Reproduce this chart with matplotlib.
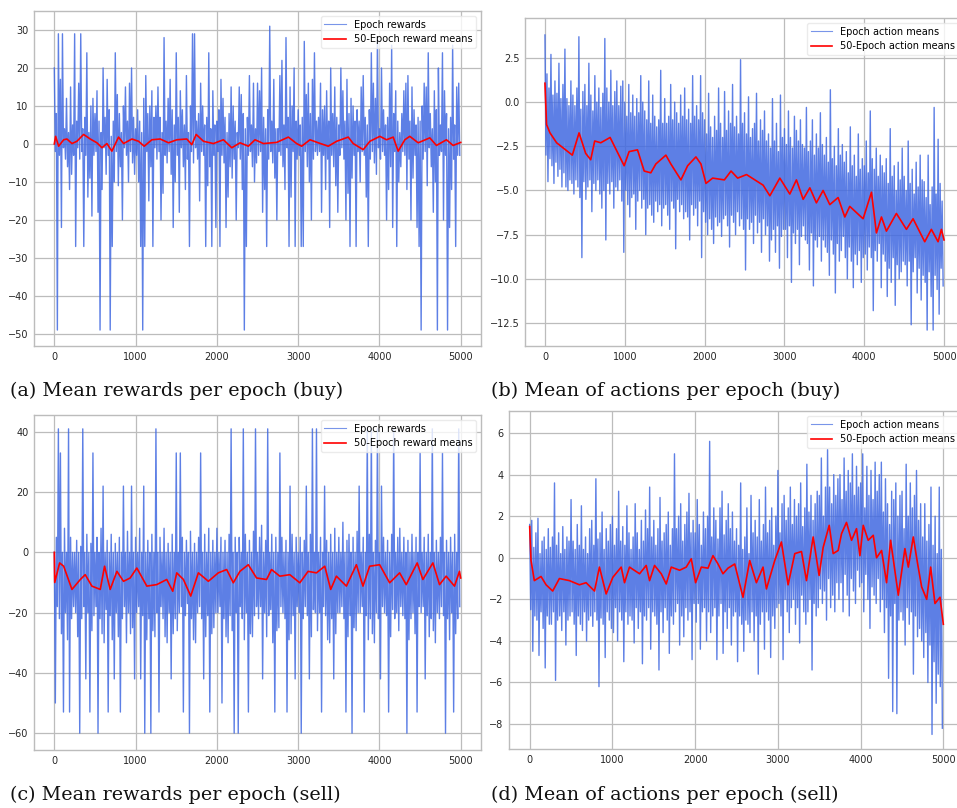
import numpy as np
import matplotlib
matplotlib.use("Agg")
import matplotlib.pyplot as plt

# ---------------------------------------------------------------- data
N_EPOCHS = 5000  # per-epoch samples below are spread evenly over the run

# (a) buy agent: per-epoch mean rewards
buy_rewards = [
    20, -2, 8, -49, 29, -3, 17, -22, 29, -1, 4, -4, 12, -6, 3, -12, 15, -8, 5, -3,
    29, -27, 6, -1, 16, -4, 29, -2, 4, -27, 7, -3, 24, -14, 3, -9, 10, -19, 12, -3,
    8, -2, 14, -18, 6, -49, 3, -12, 20, -1, 7, -8, 17, -3, 9, -49, 2, -27, 6, -10,
    24, -2, 13, -11, 8, -6, 3, -20, 10, -1, 15, -3, 6, -10, 16, -2, 20, -5, 7, -8,
    4, -3, 9, -10, 6, -27, 3, -49, 12, -27, 18, -2, 8, -15, 10, -6, 14, -27, 7, -1,
    10, -4, 15, -2, 7, -20, 3, -13, 28, -3, 6, -5, 12, -2, 17, -8, 9, -22, 5, -10,
    24, -3, 7, -18, 14, -1, 9, -6, 5, -12, 18, -4, 3, -27, 10, -2, 29, -5, 29, -1,
    6, -4, 8, -15, 16, -2, 10, -3, 5, -27, 7, -11, 24, -6, 4, -27, 14, -3, 5, -22,
    6, -2, 9, -27, 17, -3, 12, -5, 7, -22, 3, -14, 8, -6, 15, -9, 10, -4, 6, -20,
    3, -1, 15, -4, 13, -12, 8, -49, 4, -27, 7, -3, 18, -2, 5, -6, 16, -10, 4, -5,
    16, -3, 14, -2, 20, -18, 7, -12, 4, -27, 9, -4, 31, -2, 6, -5, 17, -9, 4, -20,
    4, -2, 18, -3, 22, -6, 5, -12, 28, -1, 7, -27, 15, -14, 10, -2, 20, -27, 6, -4,
    9, -3, 5, -27, 7, -27, 27, -2, 13, -6, 16, -10, 8, -20, 17, -4, 24, -2, 6, -3,
    7, -2, 16, -18, 9, -3, 10, -12, 14, -4, 6, -22, 20, -3, 8, -6, 15, -11, 7, -18,
    5, -3, 20, -1, 14, -4, 6, -20, 17, -13, 8, -27, 12, -9, 10, -3, 6, -27, 9, -2,
    6, -10, 15, -2, 18, -3, 7, -14, 5, -27, 9, -4, 24, -2, 16, -5, 12, -8, 28, -1,
    4, -4, 20, -2, 9, -3, 5, -20, 7, -12, 16, -6, 26, -22, 8, -2, 14, -27, 6, -10,
    3, -6, 8, -2, 14, -3, 16, -12, 18, -4, 6, -20, 15, -9, 9, -3, 5, -22, 7, -27,
    6, -49, 10, -4, 16, -2, 15, -11, 24, -1, 8, -6, 4, -18, 14, -10, 9, -49, 20, -3,
    5, -2, 24, -20, 14, -3, 8, -49, 4, -22, 7, -12, 26, -4, 5, -27, 15, -3, 16, -3,
]
buy_reward_mean_epochs = [
    0, 16, 53, 115, 155, 217, 278, 360, 442, 524, 586, 647, 708, 790, 852,
    954, 1036, 1106, 1200, 1302, 1405, 1507, 1630, 1691, 1745, 1835, 1957,
    2080, 2183, 2285, 2387, 2469, 2572, 2735, 2879, 2981, 3043, 3145, 3247,
    3370, 3473, 3616, 3677, 3800, 3882, 4005, 4087, 4169, 4230, 4312, 4373,
    4476, 4619, 4701, 4824, 4906, 4999,
]
buy_reward_means = [
    0, 2.0, -0.6, 1.1, 1.3, 0.1, 0.7, 2.5, 1.3, 0.3, -1.0, 0.1, -1.9, 1.8, 0.1,
    1.3, 0.7, -0.6, 1.1, 1.3, 0.3, 1.1, 1.3, -0.2, 2.5, 0.7, 0.1,
    1.1, -1.0, 0.3, -0.6, 1.1, 0.1, 0.4, 1.8, 0.1, -0.6, 1.1, 0.3,
    -0.6, 0.7, 1.8, 0.1, -1.5, 0.7, 2.0, 1.1, 1.8, -1.9, 1.1, 2.0,
    0.3, 1.6, -0.4, 1.1, -0.4, 0.4,
]

# (b) buy agent: per-epoch mean actions
buy_actions = [
    3.8, -3.0, 1.6, -4.5, 0.8, -3.2, 2.7, -3.6, 0.4, -4.6, 1.2, -3.4, 0.5, -4.2, 2.2, -3.8, 0.2, -4.8, 1.0, -4.0,
    3.0, -4.8, 0.2, -5.0, -0.2, -4.4, 1.2, -4.6, 0.4, -5.2, -0.2, -4.4, 0.8, -4.8, 3.7, -5.4, -0.4, -8.8, 0.6, -4.5,
    1.0, -5.5, -0.2, -4.8, 2.2, -4.4, 0.4, -6.2, -0.5, -4.6, 1.5, -5.0, 0.0, -4.4, 0.8, -5.2, -0.3, -6.0, 0.5, -5.0,
    3.6, -7.8, 0.8, -4.6, 0.0, -5.2, 1.8, -4.5, -0.2, -6.0, 0.6, -4.8, 1.2, -5.0, -0.2, -4.4, 0.9, -5.6, 1.2, -8.5,
    0.0, -5.0, -0.8, -5.8, 1.0, -6.5, -0.6, -5.4, 0.4, -5.2, -0.8, -7.2, 0.2, -5.6, -0.6, -5.0, 1.5, -6.0, 0.0, -5.5,
    -0.5, -7.5, -1.0, -6.0, 1.2, -5.8, -1.2, -6.4, 0.4, -6.8, -0.8, -5.6, -1.4, -6.2, -1.0, -5.8, 1.8, -7.0, -1.2, -6.0,
    0.2, -5.8, -1.2, -6.4, -0.8, -7.2, 1.0, -5.6, -1.0, -6.0, 0.0, -8.3, -0.6, -5.5, -1.2, -6.2, 0.4, -5.8, -0.8, -6.6,
    0.8, -6.2, -1.0, -6.5, -0.4, -7.8, -1.2, -5.8, 1.5, -6.4, -0.8, -6.0, -0.2, -7.0, -1.0, -5.6, 1.5, -8.8, -0.6, -6.2,
    -1.0, -6.8, -1.8, -7.5, 0.5, -6.6, -1.4, -7.2, -2.0, -8.0, -0.8, -6.5, -1.6, -7.0, 0.8, -6.8, -1.2, -7.6, -2.0, -6.6,
    0.6, -6.4, -1.6, -7.0, -0.5, -8.2, -1.2, -6.4, 1.0, -6.8, -1.4, -7.5, -0.8, -6.2, -1.8, -7.0, 2.4, -6.6, -1.2, -7.2,
    -0.6, -9.5, -1.8, -6.6, 0.3, -7.2, -2.0, -6.8, -1.5, -8.0, -1.2, -6.4, 0.5, -7.4, -2.2, -6.8, -1.0, -8.5, -1.6, -6.6,
    -0.5, -7.5, -2.2, -7.0, -1.8, -9.0, -2.6, -7.8, 0.2, -7.2, -2.2, -8.5, -1.2, -7.0, -2.8, -9.4, 0.4, -7.6, -2.0, -7.2,
    -1.5, -7.2, -2.4, -8.8, -0.5, -7.0, -2.0, -10.2, -2.6, -7.4, -0.8, -8.0, -1.6, -7.2, -2.2, -9.2, -1.0, -7.6, -2.4, -7.0,
    -2.6, -7.8, -0.3, -8.0, -2.8, -9.5, -2.2, -7.4, -1.0, -10.4, -3.0, -7.8, -1.8, -8.2, -2.6, -7.6, -0.6, -9.0, -2.4, -7.8,
    -3.0, -8.2, -2.0, -8.5, -3.4, -9.8, 0.7, -7.8, -3.2, -8.6, -2.5, -10.8, -3.6, -8.0, -1.5, -9.0, -3.0, -8.4, -2.4, -7.6,
    -3.4, -8.8, -2.8, -10.0, -4.0, -8.2, -1.4, -9.0, -3.6, -10.5, -3.0, -8.6, -4.2, -9.2, -1.8, -8.4, -3.8, -10.2, -3.2, -8.8,
    -3.6, -8.6, -2.2, -9.5, -4.0, -8.2, -0.5, -8.8, -3.2, -11.8, -3.8, -8.4, -2.6, -9.0, -4.2, -8.0, -3.0, -10.5, -3.6, -8.6,
    -4.0, -9.0, -3.2, -11.0, -4.6, -9.4, -1.5, -10.2, -4.2, -8.8, -3.6, -11.5, -5.0, -9.2, -3.4, -10.0, -4.4, -9.6, -2.6, -9.0,
    -4.2, -9.2, -5.0, -10.4, -2.2, -9.0, -4.6, -12.6, -3.8, -9.6, -5.2, -8.8, -3.4, -10.8, -4.8, -9.4, -3.0, -11.2, -4.4, -9.8,
    -4.5, -10.2, -5.4, -12.9, -3.0, -9.6, -5.8, -11.0, -4.8, -12.9, -0.3, -9.8, -5.2, -10.6, -2.1, -12.0, -4.6, -9.4, -5.6, -10.4,
]
buy_action_mean_epochs = [
    0, 20, 63, 146, 343, 427, 510, 573, 623, 699, 816, 992, 1054, 1159, 1243,
    1326, 1389, 1515, 1577, 1703, 1787, 1891, 1954, 2017, 2100, 2247, 2331,
    2414, 2525, 2733, 2817, 2942, 3067, 3150, 3234, 3318, 3400, 3484, 3568,
    3672, 3756, 3818, 3985, 4090, 4152, 4215, 4277, 4402, 4528, 4611, 4757,
    4840, 4924, 4966, 4999,
]
buy_action_means = [
    1.07, -1.27, -1.74, -2.3, -3.0, -1.74, -2.9, -3.26, -2.2, -2.3, -2.0, -3.6,
    -2.8, -2.7, -3.9, -4.0, -3.5, -3.0, -3.5, -4.4, -3.6, -3.1, -3.5, -4.6,
    -4.3, -4.4, -3.9, -4.3, -4.1, -4.7, -5.3, -4.3, -5.2, -4.4, -5.5, -4.85,
    -5.7, -5.0, -5.8, -5.4, -6.5, -5.9, -6.6, -5.1, -7.4, -6.5, -7.3, -6.3,
    -7.2, -6.6, -7.9, -7.2, -7.9, -7.2, -7.8,
]

# (c) sell agent: per-epoch mean rewards
sell_rewards = [
    0, -50, 5, -18, 41, -22, 33, -27, 0, -53, 8, -20, 0, -29, 41, -53, 5, -22, 0, -18,
    0, -20, 4, -28, 0, -60, 2, -22, 41, -18, 0, -42, 6, -20, 0, -53, 3, -26, 33, -21,
    0, -18, 5, -60, 0, -22, 8, -27, 22, -30, 0, -19, 4, -53, 0, -21, 6, -29, 0, -42,
    3, -20, 0, -28, 5, -53, 0, -22, 22, -18, 0, -30, 7, -20, 0, -27, 22, -25, 0, -42,
    5, -20, 0, -18, 8, -42, 0, -21, 22, -60, 0, -29, 4, -22, 0, -60, 6, -26, 0, -28,
    41, -20, 0, -53, 5, -18, 0, -22, 8, -28, 0, -30, 3, -20, 0, -42, 6, -27, 0, -22,
    33, -26, 0, -20, 33, -18, 5, -53, 0, -21, 4, -17, 0, -60, 7, -22, 0, -29, 3, -30,
    0, -20, 5, -18, 33, -22, 0, -42, 6, -28, 0, -21, 8, -53, 0, -27, 4, -25, 0, -20,
    8, -20, 0, -18, 5, -50, 0, -22, 4, -28, 0, -30, 6, -21, 41, -26, 0, -60, 5, -20,
    0, -60, 5, -18, 0, -22, 41, -29, 6, -20, 0, -53, 4, -27, 0, -28, 7, -21, 41, -18,
    0, -22, 5, -18, 9, -42, 0, -20, 4, -28, 41, -21, 0, -19, 6, -30, 0, -53, 5, -26,
    0, -25, 33, -18, 5, -20, 0, -22, 4, -53, 0, -29, 22, -27, 6, -21, 0, -42, 5, -18,
    0, -20, 5, -60, 0, -22, 4, -18, 22, -21, 0, -42, 6, -28, 41, -19, 0, -20, 41, -26,
    0, -20, 5, -53, 0, -18, 22, -21, 4, -29, 0, -30, 6, -22, 0, -42, 8, -27, 0, -20,
    5, -20, 0, -18, 10, -22, 0, -53, 4, -28, 6, -21, 0, -60, 5, -25, 0, -26, 7, -20,
    22, -20, 0, -18, 5, -53, 0, -21, 41, -29, 6, -22, 41, -27, 0, -30, 4, -20, 41, -22,
    0, -42, 22, -18, 5, -20, 0, -21, 4, -53, 0, -28, 6, -19, 41, -22, 0, -20, 5, -26,
    8, -18, 0, -21, 5, -22, 0, -60, 4, -29, 0, -22, 6, -20, 0, -27, 5, -53, 0, -18,
    33, -20, 0, -18, 5, -42, 0, -21, 6, -28, 0, -22, 41, -26, 0, -30, 4, -20, 0, -22,
    5, -18, 33, -21, 0, -60, 4, -22, 0, -29, 5, -20, 0, -53, 6, -27, 0, -22, 41, -18,
]
sell_reward_mean_epochs = [
    0, 5, 65, 115, 217, 320, 380, 462, 565, 618, 687, 770, 851, 933, 1015,
    1138, 1260, 1383, 1457, 1506, 1588, 1678, 1772, 1895, 2017, 2120, 2202,
    2283, 2386, 2488, 2611, 2672, 2774, 2897, 3020, 3122, 3224, 3327, 3400,
    3470, 3593, 3716, 3797, 3879, 4002, 4125, 4248, 4329, 4464, 4534, 4657,
    4739, 4820, 4923, 4984, 4999,
]
sell_reward_means = [
    0, -10, -3.5, -4.6, -12.3, -9, -7.4, -11.2, -12.3, -4.6, -12.3, -6.3, -9.6,
    -8.5, -5.2, -11.2, -10.7, -9, -12.9, -6.8, -9, -14.5, -6.8, -9.6, -6.8,
    -5.7, -10.1, -6.3, -4.1, -8.5, -9, -5.7, -7.9, -7.4, -10.1, -6.3, -6.8,
    -4.6, -12.3, -7.9, -11.2, -4.1, -11.2, -4.6, -4.1, -10.1, -6.8, -10.7,
    -3.5, -9, -3.5, -10.7, -7.9, -11.2, -6.3, -8.5,
]

# (d) sell agent: per-epoch mean actions
sell_actions = [
    1.6, -2.5, 1.8, -4.5, 0.5, -2.8, 1.2, -3.0, 1.9, -4.7, 0.2, -2.6, 0.8, -3.4, 1.0, -5.3, 0.4, -2.8, 1.4, -3.2,
    0.5, -3.2, 1.0, -2.6, 3.6, -5.9, 0.6, -3.0, 1.2, -2.8, 0.2, -3.5, 1.5, -2.6, 0.4, -4.2, 1.0, -3.0, 0.8, -2.8,
    2.8, -2.6, 0.8, -3.2, 0.4, -4.7, 1.6, -2.8, 0.6, -3.2, 2.5, -3.5, 0.4, -2.6, 1.0, -4.0, 0.2, -3.0, 1.4, -2.8,
    1.8, -3.3, 0.6, -2.6, 3.8, -3.0, 0.9, -6.2, 1.2, -2.9, 2.2, -3.2, 0.4, -4.8, 1.4, -2.6, 0.8, -3.0, 1.6, -3.4,
    2.0, -3.6, 0.6, -2.4, 1.4, -4.0, 3.2, -2.6, 0.8, -3.0, 1.5, -5.0, 0.6, -2.6, 2.5, -3.2, 1.2, -2.8, 0.4, -3.0,
    1.0, -4.1, 2.6, -2.4, 1.2, -3.4, 0.4, -2.6, 1.8, -5.1, 0.8, -2.8, 2.3, -3.0, 1.4, -2.4, 3.4, -4.4, 1.0, -2.6,
    1.8, -2.8, 0.6, -3.2, 1.4, -5.4, 2.9, -2.6, 0.8, -3.6, 1.2, -2.4, 1.6, -3.0, 2.2, -4.6, 0.6, -2.8, 1.4, -3.2,
    5.0, -2.6, 1.4, -2.2, 2.0, -4.2, 2.6, -2.8, 0.8, -3.8, 1.6, -2.4, 2.2, -3.0, 3.1, -2.6, 1.2, -4.9, 1.8, -2.2,
    1.2, -3.1, 2.8, -2.2, 1.6, -4.4, 0.6, -2.6, 2.2, -2.4, 1.4, -4.0, 2.0, -2.6, 5.6, -3.6, 1.0, -2.8, 2.4, -2.4,
    1.8, -4.9, 0.9, -2.8, 2.4, -2.2, 3.2, -4.6, 1.1, -2.6, 1.8, -3.4, 2.6, -2.4, 1.4, -4.2, 2.2, -2.8, 0.8, -2.6,
    1.4, -5.0, 0.6, -2.8, 3.6, -3.2, 0.4, -4.5, 1.0, -3.0, 2.4, -3.2, 0.2, -3.6, 3.0, -2.6, 1.2, -4.0, 1.8, -2.8,
    1.0, -5.6, 2.8, -3.2, 0.8, -2.6, 1.6, -4.4, 3.4, -2.6, 1.2, -3.0, 1.8, -4.8, 2.4, -2.8, 0.6, -3.4, 2.0, -2.4,
    4.2, -2.2, 1.2, -2.8, 2.6, -4.9, 3.0, -2.0, 1.8, -2.6, 2.4, -3.6, 3.4, -2.4, 1.6, -2.0, 2.8, -3.2, 2.0, -2.4,
    2.6, -4.1, 3.6, -1.8, 1.5, -2.6, 2.4, -3.2, 4.5, -2.6, 2.2, -2.0, 3.0, -5.4, 1.8, -2.2, 2.6, -2.8, 3.2, -2.4,
    3.0, -1.5, 4.8, -2.2, 2.0, -1.6, 3.4, -3.0, 5.2, -1.0, 3.4, -2.4, 2.6, -1.8, 4.0, -2.6, 3.0, -1.2, 3.8, -2.0,
    4.0, -1.2, 2.8, -2.6, 4.8, -0.8, 3.2, -1.8, 4.2, -2.8, 3.6, -1.0, 5.0, -1.6, 3.0, -2.2, 4.4, -0.6, 3.4, -1.4,
    3.6, -1.2, 5.0, -2.6, 2.4, -0.8, 4.4, -2.0, 3.0, -3.4, 4.2, -1.4, 2.8, -1.8, 4.6, -2.2, 3.2, -1.0, 4.0, -2.6,
    4.6, -2.0, 2.2, -3.6, 3.8, -2.4, 2.6, -5.8, 1.6, -2.8, 3.2, -7.4, 2.8, -2.2, 3.6, -7.5, 2.0, -3.0, 3.0, -2.6,
    3.2, -3.0, 1.4, -4.2, 4.5, -2.4, 2.0, -3.2, 3.6, -2.6, 2.4, -5.6, 3.0, -2.8, 4.2, -3.8, 1.8, -3.4, 2.6, -4.0,
    1.0, -4.8, 2.6, -3.6, 0.8, -6.0, 1.6, -4.2, 3.4, -8.5, 0.6, -5.0, 2.0, -7.0, 0.2, -5.6, 3.4, -6.2, 0.4, -8.2,
]
sell_action_mean_epochs = [
    0, 16, 56, 137, 198, 278, 359, 480, 601, 682, 783, 843, 924, 1005, 1106,
    1146, 1206, 1328, 1408, 1449, 1509, 1590, 1650, 1711, 1812, 1892, 1953,
    2005, 2074, 2155, 2215, 2276, 2336, 2397, 2478, 2578, 2659, 2740, 2820,
    2861, 2962, 3042, 3123, 3204, 3285, 3345, 3426, 3498, 3547, 3620, 3668,
    3728, 3769, 3829, 3890, 3950, 3991, 4031, 4091, 4152, 4192, 4253, 4313,
    4362, 4455, 4535, 4576, 4636, 4689, 4737, 4798, 4846, 4898, 4959, 4999,
]
sell_action_means = [
    1.5, -0.13, -1.1, -0.9, -1.3, -1.6, -1.0, -1.1, -1.3, -1.2, -1.6, -0.45,
    -1.74, -0.94, -0.45, -1.2, -0.45, -0.77, -0.37, -1.1, -0.37, -0.77, -1.26,
    -0.45, -0.6, -0.45, -0.05, -1.2, -0.45, -0.5, 0.1, -0.3, -0.77, -0.5, -0.3,
    -1.9, -0.13, -1.2, -0.45, -1.5, -0.13, 0.76, -1.3, 0.2, 0.3, -1.1, 1.0,
    -0.85, 0.5, 1.56, 0.2, 0.35, 1.16, 1.7, 0.84, 1.4, 0.1, 1.56, 0.84, 1.08,
    0.0, 0.35, -1.2, 0.84, -1.8, 0.44, -0.45, 1.0, -0.3, -1.4, -2.0, -0.45,
    -2.2, -1.9, -3.2,
]

x_ticks = [0, 1000, 2000, 3000, 4000, 5000]

# ---------------------------------------------------------------- style
plt.rcParams.update({
    "font.family": ["DejaVu Sans"],
    "font.size": 7,
    "axes.edgecolor": "#bcbcbc",
    "axes.linewidth": 1.0,
    "grid.color": "#bcbcbc",
    "grid.linewidth": 0.9,
    "xtick.major.size": 0,
    "ytick.major.size": 0,
    "xtick.major.pad": 4,
    "ytick.major.pad": 4,
    "xtick.color": "#262626",
    "ytick.color": "#262626",
})

W, H = 957, 808
fig = plt.figure(figsize=(W / 100, H / 100), dpi=100)


def px_axes(left, top, right, bottom):
    return fig.add_axes([left / W, 1 - bottom / H, (right - left) / W,
                         (bottom - top) / H])


def panel(ax, values, mean_epochs, means, labels, ylim, yticks, ytick_fmt):
    epochs = np.arange(len(values)) * (N_EPOCHS / len(values))
    ax.plot(epochs, values, color="royalblue", lw=1.0, alpha=0.85,
            label=labels[0])
    ax.plot(mean_epochs, means, color="red", lw=1.2, label=labels[1])
    ax.set_xlim(-250, 5249)
    ax.set_ylim(*ylim)
    ax.set_xticks(x_ticks)
    ax.set_yticks(yticks)
    ax.set_yticklabels([ytick_fmt(v).replace("-", "\u2212") for v in yticks])
    ax.grid(True)
    ax.set_axisbelow(True)
    leg = ax.legend(loc="upper right", fontsize=7, frameon=True,
                    framealpha=0.8, edgecolor="#e6e6e6", fancybox=True,
                    borderpad=0.4, labelspacing=0.45, handlelength=2.2,
                    borderaxespad=0.5)
    leg.get_lines()[0].set_linewidth(0.8)
    leg.get_lines()[0].set_alpha(0.7)
    leg.get_lines()[1].set_linewidth(1.2)


ax_a = px_axes(34, 11, 481, 346)
panel(ax_a, buy_rewards, buy_reward_mean_epochs, buy_reward_means,
      ["Epoch rewards", "50-Epoch reward means"], (-53.2, 35.0),
      list(range(-50, 31, 10)), lambda v: f"{v:d}")

ax_b = px_axes(525, 18, 964, 346)
panel(ax_b, buy_actions, buy_action_mean_epochs, buy_action_means,
      ["Epoch action means", "50-Epoch action means"], (-13.8, 4.76),
      [-12.5, -10.0, -7.5, -5.0, -2.5, 0.0, 2.5], lambda v: f"{v:.1f}")

ax_c = px_axes(34, 415, 481, 750)
panel(ax_c, sell_rewards, sell_reward_mean_epochs, sell_reward_means,
      ["Epoch rewards", "50-Epoch reward means"], (-65.6, 45.6),
      list(range(-60, 41, 20)), lambda v: f"{v:d}")

ax_d = px_axes(509, 411, 964, 749)
panel(ax_d, sell_actions, sell_action_mean_epochs, sell_action_means,
      ["Epoch action means", "50-Epoch action means"], (-9.2, 7.06),
      list(range(-8, 7, 2)), lambda v: f"{v:d}")

# ---------------------------------------------------------------- captions
cap_kw = dict(family="DejaVu Serif", fontsize=13.8, color="#111111",
              va="baseline", ha="left")
fig.text(10 / W, 1 - 396.5 / H, "(a) Mean rewards per epoch (buy)", **cap_kw)
fig.text(491 / W, 1 - 396.5 / H, "(b) Mean of actions per epoch (buy)", **cap_kw)
fig.text(10 / W, 1 - 800 / H, "(c) Mean rewards per epoch (sell)", **cap_kw)
fig.text(491 / W, 1 - 800 / H, "(d) Mean of actions per epoch (sell)", **cap_kw)

fig.savefig("out.png", dpi=100, facecolor="white")
